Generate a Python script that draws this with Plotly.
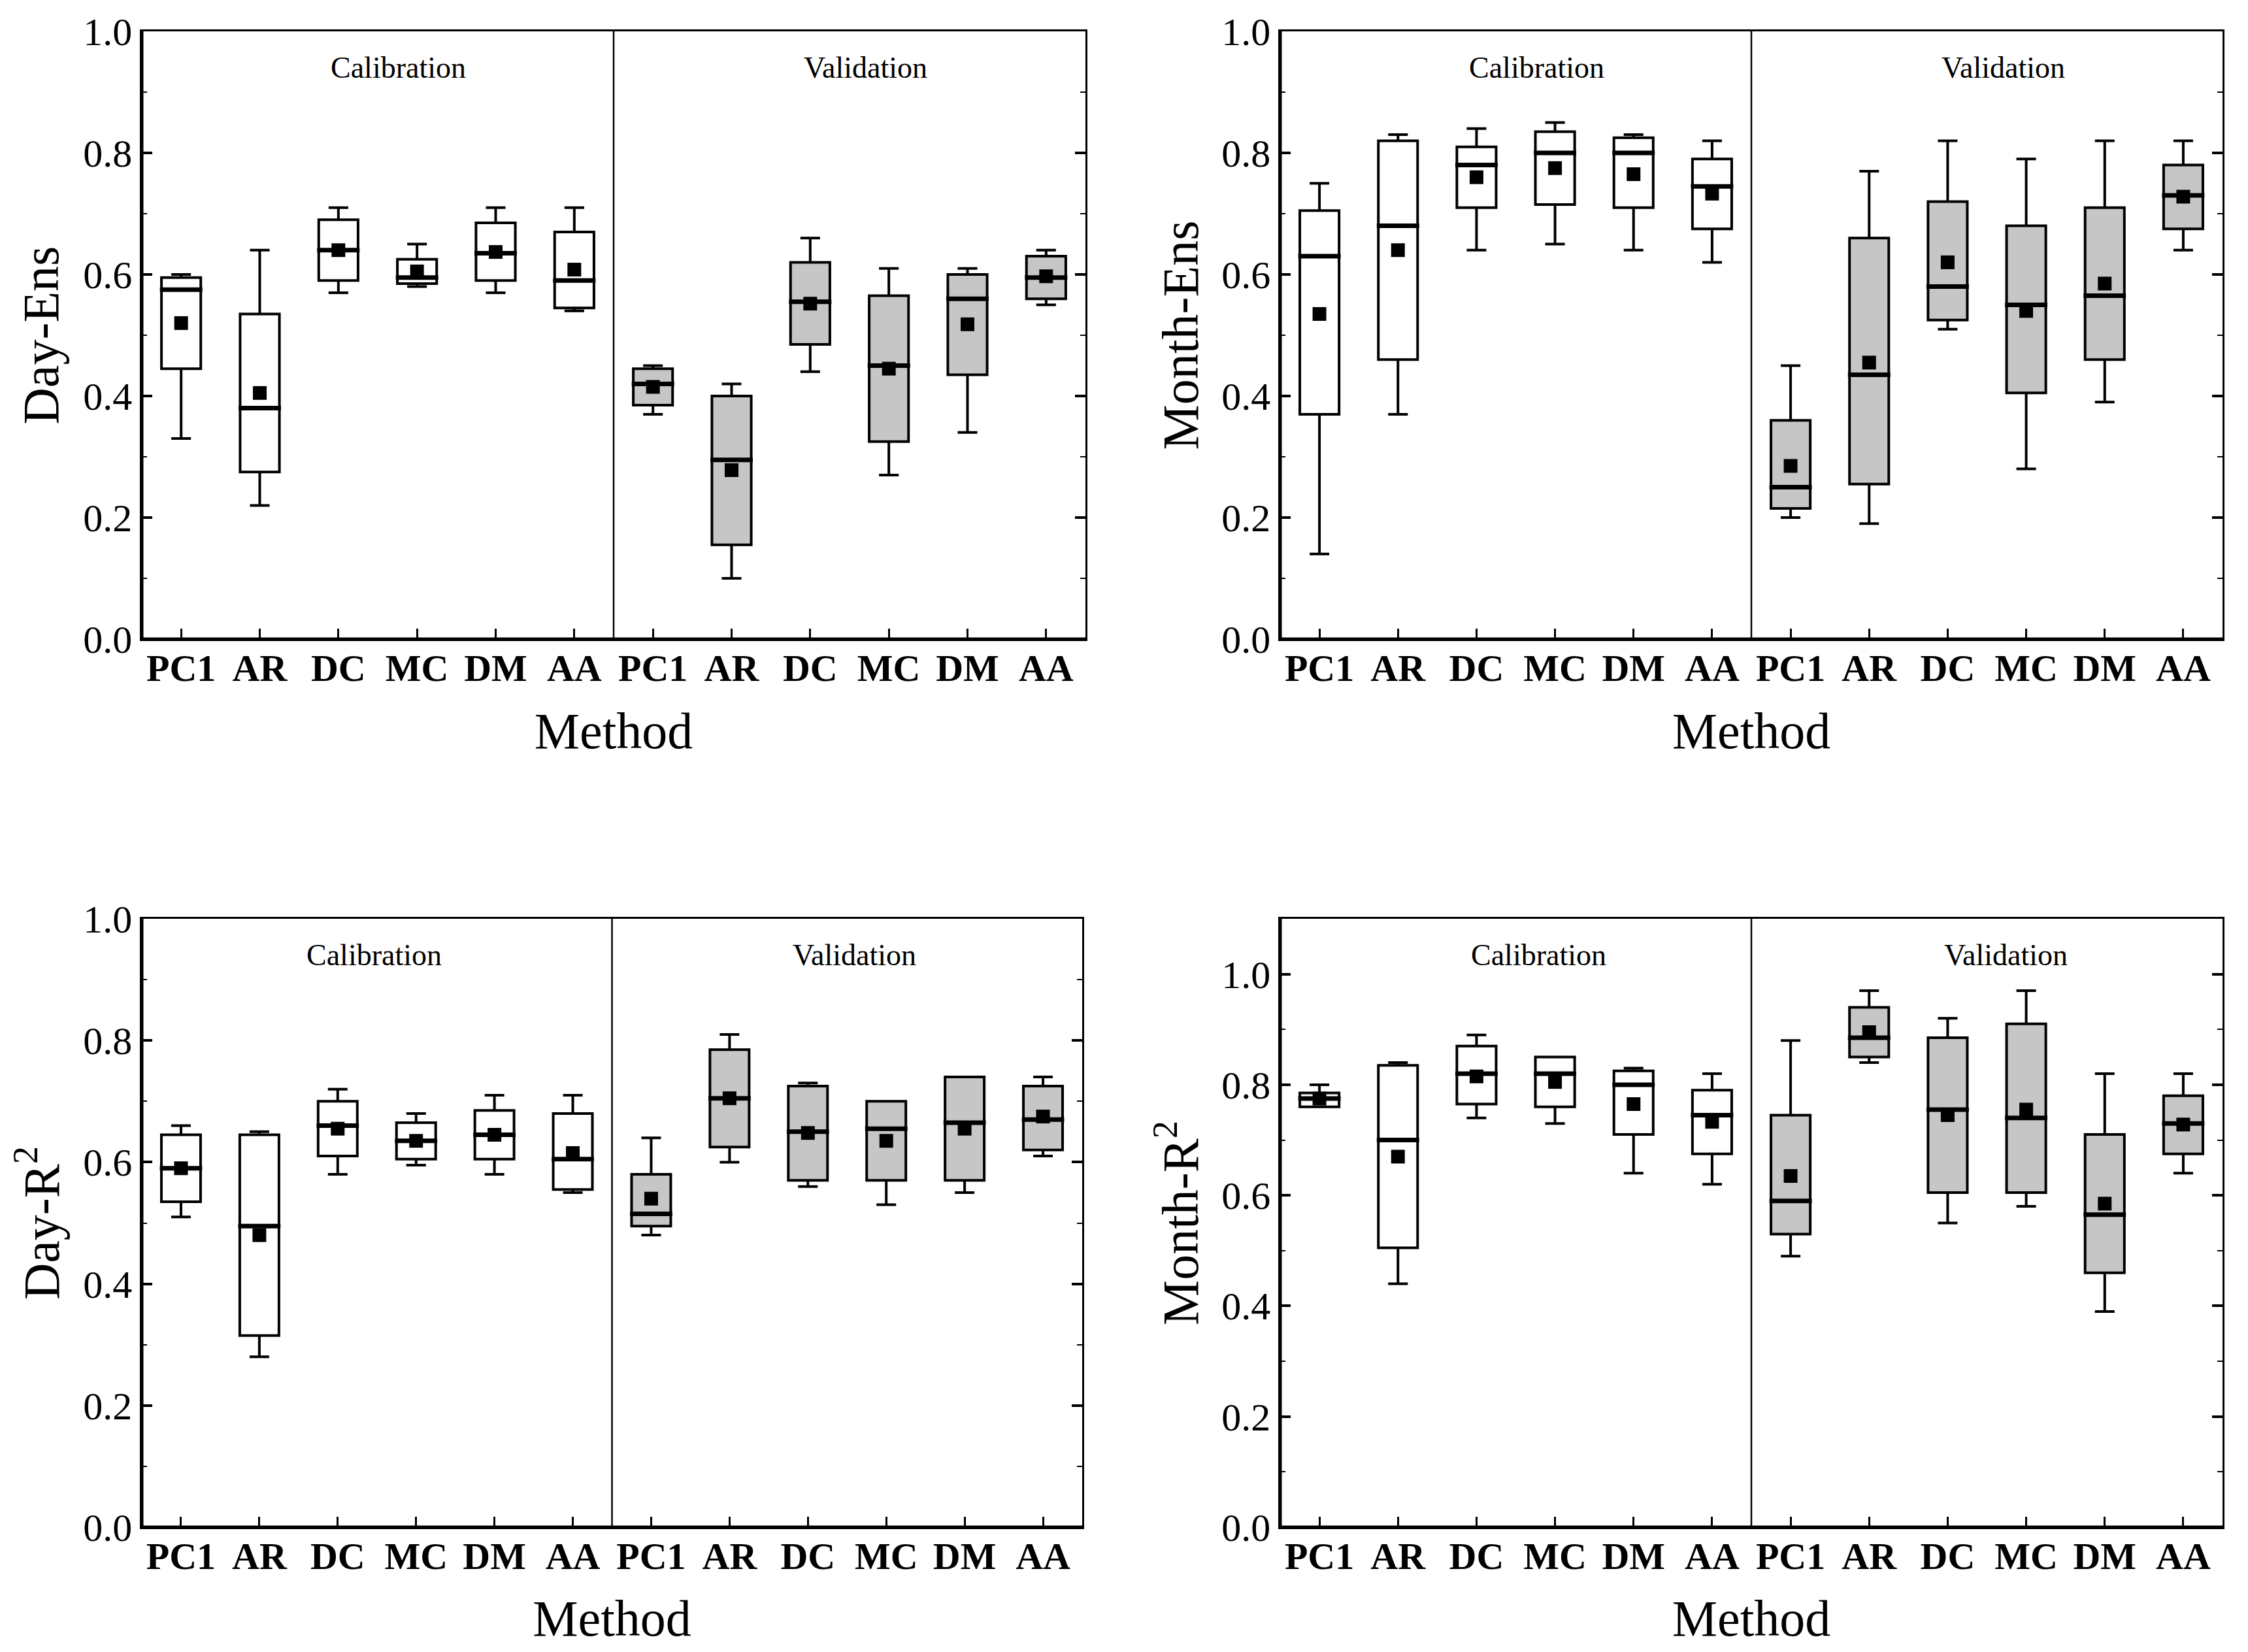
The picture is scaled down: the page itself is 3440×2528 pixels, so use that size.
import plotly.graph_objects as go
from plotly.subplots import make_subplots

# categories
methods = ["PC1", "AR", "DC", "MC", "DM", "AA"]
periods = ["Calibration", "Validation"]

# values: first 6 = calibration, last 6 = validation
day_ens_min = [0.33, 0.22, 0.57, 0.58, 0.57, 0.54, 0.37, 0.10, 0.44, 0.27, 0.34, 0.55]
day_ens_q1 = [0.445, 0.275, 0.59, 0.585, 0.59, 0.545, 0.385, 0.155, 0.485, 0.325, 0.435, 0.56]
day_ens_med = [0.575, 0.38, 0.64, 0.595, 0.635, 0.59, 0.42, 0.295, 0.555, 0.45, 0.56, 0.595]
day_ens_q3 = [0.595, 0.535, 0.69, 0.625, 0.685, 0.67, 0.445, 0.40, 0.62, 0.565, 0.60, 0.63]
day_ens_max = [0.60, 0.64, 0.71, 0.65, 0.71, 0.71, 0.45, 0.42, 0.66, 0.61, 0.61, 0.64]
day_ens_mean = [0.52, 0.405, 0.64, 0.605, 0.637, 0.608, 0.415, 0.278, 0.552, 0.445, 0.518, 0.597]

month_ens_min = [0.14, 0.37, 0.64, 0.65, 0.64, 0.62, 0.20, 0.19, 0.51, 0.28, 0.39, 0.64]
month_ens_q1 = [0.37, 0.46, 0.71, 0.715, 0.71, 0.675, 0.215, 0.255, 0.525, 0.405, 0.46, 0.675]
month_ens_med = [0.63, 0.68, 0.78, 0.80, 0.80, 0.745, 0.25, 0.435, 0.58, 0.55, 0.565, 0.73]
month_ens_q3 = [0.705, 0.82, 0.81, 0.835, 0.825, 0.79, 0.36, 0.66, 0.72, 0.68, 0.71, 0.78]
month_ens_max = [0.75, 0.83, 0.84, 0.85, 0.83, 0.82, 0.45, 0.77, 0.82, 0.79, 0.82, 0.82]
month_ens_mean = [0.535, 0.64, 0.76, 0.775, 0.765, 0.733, 0.285, 0.455, 0.62, 0.54, 0.585, 0.728]

day_r2_min = [0.51, 0.28, 0.58, 0.595, 0.58, 0.55, 0.48, 0.60, 0.56, 0.53, 0.55, 0.61]
day_r2_q1 = [0.535, 0.315, 0.61, 0.605, 0.605, 0.555, 0.495, 0.625, 0.57, 0.57, 0.57, 0.62]
day_r2_med = [0.59, 0.495, 0.66, 0.635, 0.645, 0.605, 0.515, 0.705, 0.65, 0.655, 0.665, 0.67]
day_r2_q3 = [0.645, 0.645, 0.70, 0.665, 0.685, 0.68, 0.58, 0.785, 0.725, 0.70, 0.74, 0.725]
day_r2_max = [0.66, 0.65, 0.72, 0.68, 0.71, 0.71, 0.64, 0.81, 0.73, 0.70, 0.74, 0.74]
day_r2_mean = [0.59, 0.48, 0.655, 0.635, 0.645, 0.615, 0.54, 0.705, 0.648, 0.635, 0.655, 0.675]

month_r2_min = [0.76, 0.44, 0.74, 0.73, 0.64, 0.62, 0.49, 0.84, 0.55, 0.58, 0.39, 0.64]
month_r2_q1 = [0.76, 0.505, 0.765, 0.76, 0.71, 0.675, 0.53, 0.85, 0.605, 0.605, 0.46, 0.675]
month_r2_med = [0.775, 0.70, 0.82, 0.82, 0.80, 0.745, 0.59, 0.885, 0.755, 0.74, 0.565, 0.73]
month_r2_q3 = [0.785, 0.835, 0.87, 0.85, 0.825, 0.79, 0.745, 0.94, 0.885, 0.91, 0.71, 0.78]
month_r2_max = [0.80, 0.84, 0.89, 0.85, 0.83, 0.82, 0.88, 0.97, 0.92, 0.97, 0.82, 0.82]
month_r2_mean = [0.775, 0.67, 0.815, 0.805, 0.765, 0.733, 0.635, 0.895, 0.745, 0.755, 0.585, 0.728]

panels = [
    ("Day-Ens", [day_ens_min, day_ens_q1, day_ens_med, day_ens_q3, day_ens_max, day_ens_mean], 1.0),
    ("Month-Ens", [month_ens_min, month_ens_q1, month_ens_med, month_ens_q3, month_ens_max, month_ens_mean], 1.0),
    ("Day-R<sup>2</sup>", [day_r2_min, day_r2_q1, day_r2_med, day_r2_q3, day_r2_max, day_r2_mean], 1.0),
    ("Month-R<sup>2</sup>", [month_r2_min, month_r2_q1, month_r2_med, month_r2_q3, month_r2_max, month_r2_mean], 1.1),
]

FONT = "Liberation Serif, Times New Roman, serif"
fills = ["white", "#c6c6c6"]
n = len(methods)
pos = list(range(1, 2 * n + 1))

# page is drawn with an 8px body margin, so size the figure to fit the window
OFF = 8
W, H = 3440 - 2 * OFF, 2528 - 2 * OFF
# panel boxes in window pixels: left, right, top, bottom
boxes = [(217, 1661, 48, 978), (1959, 3401, 48, 978),
         (217, 1656, 1406, 2337), (1959, 3401, 1406, 2337)]
label_x = [(0.272, 0.767), (0.272, 0.767), (0.247, 0.758), (0.274, 0.770)]
title_off = [12, 10, 12, 10]

fig = make_subplots(rows=2, cols=2)

for k, (ylab, stats, ytop) in enumerate(panels):
    r, c = k // 2 + 1, k % 2 + 1
    lo, q1, med, q3, hi, mean = stats
    for g in range(2):
        s = slice(g * n, g * n + n)
        fig.add_trace(
            go.Box(
                x=pos[s], q1=q1[s], median=med[s], q3=q3[s],
                lowerfence=lo[s], upperfence=hi[s],
                width=0.5, whiskerwidth=0.5, fillcolor=fills[g],
                line=dict(color="black", width=4),
                boxpoints=False, showlegend=False, name=periods[g],
            ),
            row=r, col=c,
        )
    # thicker median bars
    mx, my = [], []
    for p, m in zip(pos, med):
        mx += [p - 0.27, p + 0.27, None]
        my += [m, m, None]
    fig.add_trace(go.Scatter(x=mx, y=my, mode="lines", line=dict(color="black", width=7),
                             showlegend=False, hoverinfo="skip"), row=r, col=c)
    # mean squares
    fig.add_trace(go.Scatter(x=pos, y=mean, mode="markers",
                             marker=dict(symbol="square", size=21, color="black"),
                             showlegend=False), row=r, col=c)

    x0, x1, y0, y1 = boxes[k]
    fig.update_yaxes(
        domain=[1 - (y1 - OFF) / H, 1 - (y0 - OFF) / H],
        range=[0, ytop], dtick=0.2, tick0=0, tickformat=".1f",
        ticks="inside", ticklen=16, tickwidth=4, tickcolor="black",
        minor=dict(dtick=0.1, ticks="inside", ticklen=8, tickwidth=2, tickcolor="black"),
        showline=True, linewidth=2.5, linecolor="black", mirror="ticks",
        showgrid=False, zeroline=False, automargin=False,
        tickfont=dict(family=FONT, size=60, color="black"),
        title=dict(text=ylab, font=dict(family=FONT, size=78, color="black"),
                   standoff=title_off[k]),
        row=r, col=c,
    )
    fig.update_xaxes(
        domain=[(x0 - OFF) / W, (x1 - OFF) / W],
        range=[0.5, 2 * n + 0.5], tickvals=pos, ticktext=methods * 2,
        ticks="inside", ticklen=16, tickwidth=3, tickcolor="black",
        showline=True, linewidth=2.5, linecolor="black", mirror=True,
        showgrid=False, zeroline=False, ticklabelstandoff=-8, automargin=False,
        tickfont=dict(family=FONT, size=58, color="black", weight="bold"),
        title=dict(text="Method", font=dict(family=FONT, size=78, color="black"), standoff=37),
        row=r, col=c,
    )

shapes = []
annotations = []
for k in range(4):
    xs = "x" if k == 0 else f"x{k + 1}"
    ys = "y" if k == 0 else f"y{k + 1}"
    # calibration / validation divider
    shapes.append(dict(type="line", xref=xs, yref=f"{ys} domain", x0=n + 0.5, x1=n + 0.5,
                       y0=0, y1=1, line=dict(color="black", width=2.5)))
    # heavier left and bottom axis lines
    shapes.append(dict(type="line", xref=f"{xs} domain", yref=f"{ys} domain", x0=0, x1=1,
                       y0=0, y1=0, line=dict(color="black", width=5)))
    shapes.append(dict(type="line", xref=f"{xs} domain", yref=f"{ys} domain", x0=0, x1=0,
                       y0=0, y1=1, line=dict(color="black", width=5)))
    for txt, fx in zip(periods, label_x[k]):
        annotations.append(dict(text=txt, xref=f"{xs} domain", yref=f"{ys} domain",
                                x=fx, y=0.94, xanchor="center", yanchor="middle",
                                showarrow=False,
                                font=dict(family=FONT, size=46, color="black")))

fig.update_layout(
    width=W, height=H,
    margin=dict(l=0, r=0, t=0, b=0),
    plot_bgcolor="white", paper_bgcolor="white",
    shapes=shapes, annotations=annotations,
    showlegend=False, boxmode="overlay",
)

fig.write_html("out.html")
